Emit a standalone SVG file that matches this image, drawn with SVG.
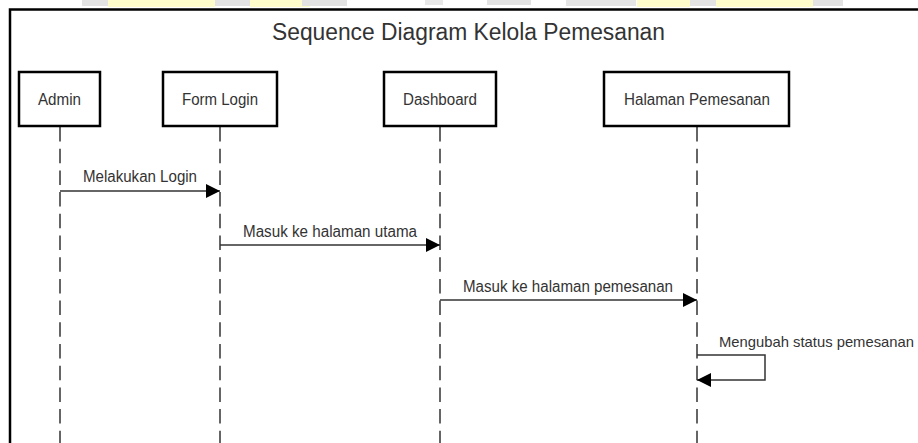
<svg xmlns="http://www.w3.org/2000/svg" width="918" height="443" viewBox="0 0 918 443">
<defs>
<style>
.t{font-family:"Liberation Sans",Arial,sans-serif;fill:#333;font-size:16px;}
.box{fill:#fff;stroke:#000;stroke-width:2.5;}
.life{stroke:#333;stroke-width:1.5;stroke-dasharray:14.5 7.2;fill:none;}
.msg{stroke:#333;stroke-width:1.5;fill:none;}
</style>
<marker id="ah" viewBox="0 0 14 14" refX="14" refY="7" markerWidth="14" markerHeight="14" markerUnits="userSpaceOnUse" orient="auto">
<path d="M0,0 L14,7 L0,14 Z" fill="#000"/>
</marker>
</defs>
<rect x="0" y="0" width="918" height="443" fill="#fff"/>
<g id="watermark">
<rect x="82" y="0" width="26" height="6" fill="#e3e3e3"/>
<rect x="108" y="0" width="107" height="7" fill="#fefccb"/>
<rect x="215" y="0" width="35" height="6" fill="#e3e3e3"/>
<rect x="250" y="0" width="60" height="7" fill="#fefccb"/>
<rect x="302" y="0" width="45" height="6" fill="#e3e3e3"/>
<rect x="425" y="0" width="18" height="5" fill="#e8e8e8"/>
<rect x="487" y="0" width="44" height="5" fill="#e3e3e3"/>
<rect x="566" y="0" width="70" height="6" fill="#e5e5e5"/>
<rect x="637" y="0" width="53" height="7" fill="#fefccb"/>
<rect x="690" y="0" width="26" height="6" fill="#e3e3e3"/>
<rect x="716" y="0" width="97" height="7" fill="#fefccb"/>
<rect x="813" y="0" width="30" height="6" fill="#e3e3e3"/>
</g>
<g id="frame">
<path d="M10,443 L10,9.5 L918,9.5" fill="none" stroke="#000" stroke-width="2.5"/>
</g>
<text class="t" x="272" y="40" style="font-size:23.5px" textLength="393" lengthAdjust="spacingAndGlyphs">Sequence Diagram Kelola Pemesanan</text>
<g id="lifelines">
<line class="life" x1="60" y1="127" x2="60" y2="443"/>
<line class="life" x1="220" y1="127" x2="220" y2="443"/>
<line class="life" x1="440" y1="127" x2="440" y2="443"/>
<line class="life" x1="697" y1="127" x2="697" y2="443"/>
</g>
<g id="admin">
<rect class="box" x="19" y="72" width="81" height="54"/>
<text class="t" x="38" y="105" textLength="43" lengthAdjust="spacingAndGlyphs">Admin</text>
</g>
<g id="form-login">
<rect class="box" x="163" y="72" width="114" height="54"/>
<text class="t" x="182" y="105" textLength="76" lengthAdjust="spacingAndGlyphs">Form Login</text>
</g>
<g id="dashboard">
<rect class="box" x="384" y="72" width="112" height="54"/>
<text class="t" x="403" y="105" textLength="74" lengthAdjust="spacingAndGlyphs">Dashboard</text>
</g>
<g id="halaman-pemesanan">
<rect class="box" x="604" y="72" width="185" height="54"/>
<text class="t" x="624" y="105" textLength="146" lengthAdjust="spacingAndGlyphs">Halaman Pemesanan</text>
</g>
<g id="connectors">
<line class="msg" x1="60" y1="191" x2="220" y2="191" marker-end="url(#ah)"/>
<text class="t" x="83" y="182" textLength="114" lengthAdjust="spacingAndGlyphs">Melakukan Login</text>
<line class="msg" x1="220" y1="245" x2="440" y2="245" marker-end="url(#ah)"/>
<text class="t" x="243" y="237" textLength="174" lengthAdjust="spacingAndGlyphs">Masuk ke halaman utama</text>
<line class="msg" x1="440" y1="300" x2="697" y2="300" marker-end="url(#ah)"/>
<text class="t" x="463" y="292" textLength="210" lengthAdjust="spacingAndGlyphs">Masuk ke halaman pemesanan</text>
<path class="msg" d="M697,355 L765,355 L765,380 L697,380" marker-end="url(#ah)"/>
<text class="t" x="719" y="347" style="font-size:15px" textLength="195" lengthAdjust="spacingAndGlyphs">Mengubah status pemesanan</text>
</g>
</svg>
